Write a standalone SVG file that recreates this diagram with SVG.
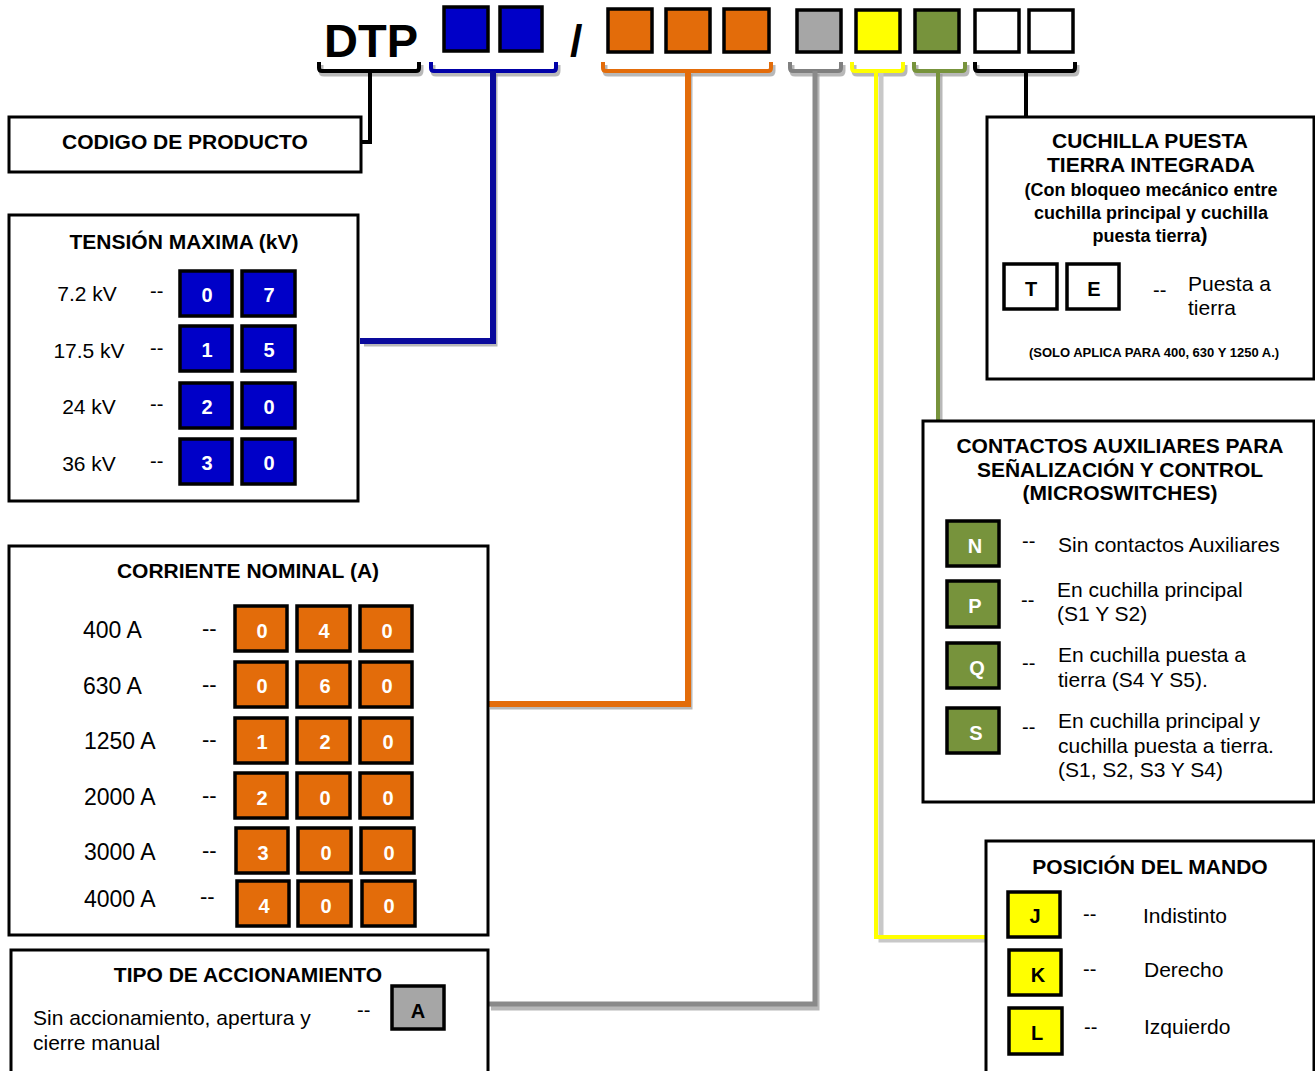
<svg xmlns="http://www.w3.org/2000/svg" width="1315" height="1071" viewBox="0 0 1315 1071">
<style>
text{font-family:"Liberation Sans",Arial,Helvetica,sans-serif;fill:#000}
.b{font-weight:bold}
.t21{font-size:21px;font-weight:bold}
.r21{font-size:21px}
.r20{font-size:20px}
.mid{text-anchor:middle}
.box{fill:#fff;stroke:#000;stroke-width:3}
.sq{stroke:#000;stroke-width:3.5}
.cell{stroke:#000;stroke-width:3.5}
.blue{fill:#0000C8}
.orange{fill:#E36C0A}
.gray{fill:#A6A6A6}
.yellow{fill:#FFFF00}
.green{fill:#77933C}
.white{fill:#fff}
.dw{font-size:20px;font-weight:bold;fill:#fff;text-anchor:middle}
.dk{font-size:20px;font-weight:bold;fill:#000;text-anchor:middle}
.ln{fill:none;stroke-linejoin:miter;stroke-linecap:butt}
.sh{fill:none;stroke:#9a9a9a;stroke-width:5;opacity:0.7}
</style>

<!-- header code -->
<g id="header">
  <text x="324" y="57" class="b" style="font-size:47px">DTP</text>
  <rect x="444" y="7" width="44" height="44" class="sq blue"/>
  <rect x="500" y="7" width="42" height="44" class="sq blue"/>
  <text x="570" y="56" class="b" style="font-size:45px">/</text>
  <rect x="608" y="9" width="44" height="43" class="sq orange"/>
  <rect x="666" y="9" width="44" height="43" class="sq orange"/>
  <rect x="724" y="9" width="45" height="43" class="sq orange"/>
  <rect x="797" y="10" width="44" height="42" class="sq gray"/>
  <rect x="856" y="10" width="44" height="42" class="sq yellow"/>
  <rect x="915" y="10" width="44" height="42" class="sq green"/>
  <rect x="975" y="10" width="44" height="42" class="sq white"/>
  <rect x="1029" y="10" width="44" height="42" class="sq white"/>
</g>

<!-- connectors -->
<g id="connectors">
  <!-- shadows -->
  <g transform="translate(2,3)">
    <path class="sh" d="M319,62 V68 Q319,71 322,71 H416 Q419,71 419,68 V62"/>
    <path class="sh" d="M431,62 V68 Q431,71 434,71 H553 Q556,71 556,68 V62"/>
    <path class="sh" d="M603,62 V68 Q603,71 606,71 H768 Q771,71 771,68 V62"/>
    <path class="sh" d="M790,62 V68 Q790,71 793,71 H838 Q841,71 841,68 V62"/>
    <path class="sh" d="M852,62 V68 Q852,71 855,71 H900 Q903,71 903,68 V62"/>
    <path class="sh" d="M914,62 V68 Q914,71 917,71 H962 Q965,71 965,68 V62"/>
    <path class="sh" d="M975,62 V68 Q975,71 978,71 H1072 Q1075,71 1075,68 V62"/>
    <path class="sh" d="M493,71 V341 H362"/>
    <path class="sh" d="M688,71 V704 H488"/>
    <path class="sh" d="M815,71 V1005 H489"/>
    <path class="sh" d="M938,71 V418"/>
  </g>
  <path d="M881,71 V940 H986" fill="none" stroke="#c8c8c8" stroke-width="5"/>
  <!-- brackets -->
  <path class="ln" stroke="#000" stroke-width="4" d="M319,62 V68 Q319,71 322,71 H416 Q419,71 419,68 V62"/>
  <path class="ln" stroke="#0000A8" stroke-width="4" d="M431,62 V68 Q431,71 434,71 H553 Q556,71 556,68 V62"/>
  <path class="ln" stroke="#E36C0A" stroke-width="4" d="M603,62 V68 Q603,71 606,71 H768 Q771,71 771,68 V62"/>
  <path class="ln" stroke="#808080" stroke-width="4" d="M790,62 V68 Q790,71 793,71 H838 Q841,71 841,68 V62"/>
  <path class="ln" stroke="#FFFF00" stroke-width="4" d="M852,62 V68 Q852,71 855,71 H900 Q903,71 903,68 V62"/>
  <path class="ln" stroke="#77933C" stroke-width="4" d="M914,62 V68 Q914,71 917,71 H962 Q965,71 965,68 V62"/>
  <path class="ln" stroke="#000" stroke-width="4" d="M975,62 V68 Q975,71 978,71 H1072 Q1075,71 1075,68 V62"/>
  <!-- lines -->
  <path class="ln" stroke="#000" stroke-width="4" d="M370,71 V142 H361"/>
  <path class="ln" stroke="#0A0A9C" stroke-width="6" d="M493,71 V341 H360"/>
  <path class="ln" stroke="#E36C0A" stroke-width="6" d="M688,71 V704 H487"/>
  <path class="ln" stroke="#8A8A8A" stroke-width="5" d="M815,71 V1004 H488"/>
  <path class="ln" stroke="#FFFF00" stroke-width="4" d="M876,71 V937 H986"/>
  <path class="ln" stroke="#77933C" stroke-width="4" d="M938,71 V420"/>
  <path class="ln" stroke="#000" stroke-width="4" d="M1026,71 V117"/>
</g>

<!-- CODIGO DE PRODUCTO -->
<g id="codigo">
  <rect x="9" y="117" width="352" height="55" class="box"/>
  <text x="185" y="149" class="t21 mid">CODIGO DE PRODUCTO</text>
</g>

<!-- TENSION -->
<g id="tension">
  <rect x="9" y="215" width="349" height="286" class="box"/>
  <text x="184" y="249" class="t21 mid">TENSIÓN MAXIMA (kV)</text>
  <text x="87" y="301" class="r21 mid">7.2 kV</text>
  <text x="89" y="358" class="r21 mid">17.5 kV</text>
  <text x="89" y="414" class="r21 mid">24 kV</text>
  <text x="89" y="471" class="r21 mid">36 kV</text>
  <text x="150" y="298" class="r20">--</text>
  <text x="150" y="355" class="r20">--</text>
  <text x="150" y="411" class="r20">--</text>
  <text x="150" y="468" class="r20">--</text>
  <rect x="180" y="271" width="52" height="45" class="cell blue"/>
  <rect x="242" y="271" width="53" height="45" class="cell blue"/>
  <rect x="180" y="326" width="52" height="45" class="cell blue"/>
  <rect x="242" y="326" width="53" height="45" class="cell blue"/>
  <rect x="180" y="383" width="52" height="45" class="cell blue"/>
  <rect x="242" y="383" width="53" height="45" class="cell blue"/>
  <rect x="180" y="439" width="52" height="45" class="cell blue"/>
  <rect x="242" y="439" width="53" height="45" class="cell blue"/>
  <text x="207" y="302" class="dw">0</text><text x="269" y="302" class="dw">7</text>
  <text x="207" y="357" class="dw">1</text><text x="269" y="357" class="dw">5</text>
  <text x="207" y="414" class="dw">2</text><text x="269" y="414" class="dw">0</text>
  <text x="207" y="470" class="dw">3</text><text x="269" y="470" class="dw">0</text>
</g>

<!-- CORRIENTE -->
<g id="corriente">
  <rect x="9" y="546" width="479" height="389" class="box"/>
  <text x="248" y="578" class="t21 mid">CORRIENTE NOMINAL (A)</text>
  <g style="font-size:23px">
    <text x="83" y="638">400 A</text>
    <text x="83" y="694">630 A</text>
    <text x="84" y="749">1250 A</text>
    <text x="84" y="805">2000 A</text>
    <text x="84" y="860">3000 A</text>
    <text x="84" y="907">4000 A</text>
  </g>
  <g style="font-size:22px">
    <text x="202" y="636">--</text>
    <text x="202" y="692">--</text>
    <text x="202" y="747">--</text>
    <text x="202" y="803">--</text>
    <text x="202" y="858">--</text>
    <text x="200" y="904">--</text>
  </g>
  <rect x="235" y="606" width="52" height="45" class="cell orange"/>
  <rect x="297" y="606" width="53" height="45" class="cell orange"/>
  <rect x="360" y="606" width="52" height="45" class="cell orange"/>
  <rect x="235" y="662" width="52" height="45" class="cell orange"/>
  <rect x="297" y="662" width="53" height="45" class="cell orange"/>
  <rect x="360" y="662" width="52" height="45" class="cell orange"/>
  <rect x="235" y="718" width="52" height="45" class="cell orange"/>
  <rect x="297" y="718" width="53" height="45" class="cell orange"/>
  <rect x="360" y="718" width="52" height="45" class="cell orange"/>
  <rect x="235" y="773" width="52" height="45" class="cell orange"/>
  <rect x="297" y="773" width="53" height="45" class="cell orange"/>
  <rect x="360" y="773" width="52" height="45" class="cell orange"/>
  <rect x="236" y="828" width="52" height="45" class="cell orange"/>
  <rect x="298" y="828" width="53" height="45" class="cell orange"/>
  <rect x="361" y="828" width="53" height="45" class="cell orange"/>
  <rect x="237" y="881" width="52" height="45" class="cell orange"/>
  <rect x="298" y="881" width="53" height="45" class="cell orange"/>
  <rect x="362" y="881" width="53" height="45" class="cell orange"/>
  <text x="262" y="638" class="dw">0</text><text x="324" y="638" class="dw">4</text><text x="387" y="638" class="dw">0</text>
  <text x="262" y="693" class="dw">0</text><text x="325" y="693" class="dw">6</text><text x="387" y="693" class="dw">0</text>
  <text x="262" y="749" class="dw">1</text><text x="325" y="749" class="dw">2</text><text x="388" y="749" class="dw">0</text>
  <text x="262" y="805" class="dw">2</text><text x="325" y="805" class="dw">0</text><text x="388" y="805" class="dw">0</text>
  <text x="263" y="860" class="dw">3</text><text x="326" y="860" class="dw">0</text><text x="389" y="860" class="dw">0</text>
  <text x="264" y="913" class="dw">4</text><text x="326" y="913" class="dw">0</text><text x="389" y="913" class="dw">0</text>
</g>

<!-- TIPO DE ACCIONAMIENTO -->
<g id="accionamiento">
  <rect x="11" y="950" width="477" height="130" class="box"/>
  <text x="248" y="982" class="t21 mid">TIPO DE ACCIONAMIENTO</text>
  <text x="33" y="1025" class="r21">Sin accionamiento, apertura y</text>
  <text x="33" y="1050" class="r21">cierre manual</text>
  <text x="357" y="1017" class="r20">--</text>
  <rect x="392" y="986" width="52" height="43" class="cell gray"/>
  <text x="418" y="1018" class="dk">A</text>
</g>

<!-- CUCHILLA PUESTA TIERRA -->
<g id="cuchilla">
  <rect x="987" y="117" width="327" height="262" class="box"/>
  <text x="1150" y="148" class="t21 mid">CUCHILLA PUESTA</text>
  <text x="1151" y="172" class="t21 mid">TIERRA INTEGRADA</text>
  <text x="1151" y="196" class="b mid" style="font-size:18px">(Con bloqueo mecánico entre</text>
  <text x="1151" y="219" class="b mid" style="font-size:18px">cuchilla principal y cuchilla</text>
  <text x="1150" y="242" class="b mid" style="font-size:18px">puesta tierra<tspan style="font-size:21px">)</tspan></text>
  <rect x="1004" y="264" width="53" height="45" class="cell white"/>
  <rect x="1067" y="264" width="52" height="45" class="cell white"/>
  <text x="1031" y="296" class="dk">T</text>
  <text x="1094" y="296" class="dk">E</text>
  <text x="1153" y="297" class="r20">--</text>
  <text x="1188" y="291" class="r21">Puesta a</text>
  <text x="1188" y="315" class="r21">tierra</text>
  <text x="1154" y="357" class="b mid" style="font-size:13px">(SOLO APLICA PARA 400, 630 Y 1250 A.)</text>
</g>

<!-- CONTACTOS AUXILIARES -->
<g id="contactos">
  <rect x="923" y="421" width="391" height="381" class="box"/>
  <text x="1120" y="453" class="t21 mid">CONTACTOS AUXILIARES PARA</text>
  <text x="1120" y="477" class="t21 mid">SEÑALIZACIÓN Y CONTROL</text>
  <text x="1120" y="500" class="t21 mid">(MICROSWITCHES)</text>
  <rect x="947" y="521" width="52" height="45" class="cell green"/>
  <rect x="947" y="581" width="52" height="46" class="cell green"/>
  <rect x="947" y="643" width="52" height="45" class="cell green"/>
  <rect x="947" y="708" width="52" height="45" class="cell green"/>
  <text x="975" y="553" class="dw">N</text>
  <text x="975" y="613" class="dw">P</text>
  <text x="977" y="675" class="dw">Q</text>
  <text x="976" y="740" class="dw">S</text>
  <g class="r20">
    <text x="1022" y="548">--</text>
    <text x="1021" y="607">--</text>
    <text x="1022" y="670">--</text>
    <text x="1022" y="734">--</text>
  </g>
  <g class="r21">
    <text x="1058" y="552">Sin contactos Auxiliares</text>
    <text x="1057" y="597">En cuchilla principal</text>
    <text x="1057" y="621">(S1 Y S2)</text>
    <text x="1058" y="662">En cuchilla puesta a</text>
    <text x="1058" y="687">tierra (S4 Y S5).</text>
    <text x="1058" y="728">En cuchilla principal y</text>
    <text x="1058" y="753">cuchilla puesta a tierra.</text>
    <text x="1058" y="777">(S1, S2, S3 Y S4)</text>
  </g>
</g>

<!-- POSICION DEL MANDO -->
<g id="posicion">
  <rect x="986" y="841" width="328" height="240" class="box"/>
  <text x="1150" y="874" class="t21 mid">POSICIÓN DEL MANDO</text>
  <rect x="1008" y="892" width="52" height="45" class="cell yellow"/>
  <rect x="1009" y="950" width="52" height="45" class="cell yellow"/>
  <rect x="1009" y="1008" width="53" height="46" class="cell yellow"/>
  <text x="1035" y="923" class="dk">J</text>
  <text x="1038" y="982" class="dk">K</text>
  <text x="1037" y="1040" class="dk">L</text>
  <g class="r20">
    <text x="1083" y="921">--</text>
    <text x="1083" y="976">--</text>
    <text x="1084" y="1034">--</text>
  </g>
  <g class="r21">
    <text x="1143" y="923">Indistinto</text>
    <text x="1144" y="977">Derecho</text>
    <text x="1144" y="1034">Izquierdo</text>
  </g>
</g>
</svg>
